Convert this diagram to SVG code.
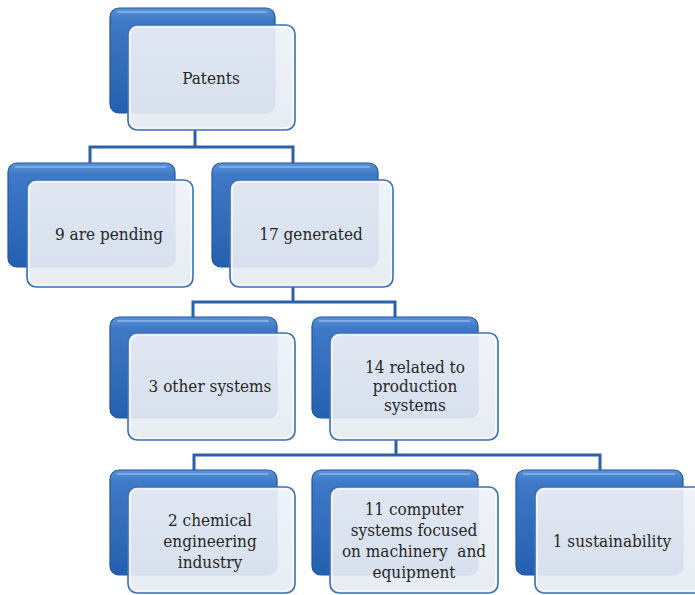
<svg xmlns="http://www.w3.org/2000/svg" width="695" height="595" viewBox="0 0 695 595">
<defs>
<linearGradient id="blueG" x1="0" y1="0" x2="0" y2="1">
<stop offset="0" stop-color="#5a93d8"/>
<stop offset="0.12" stop-color="#3e78c6"/>
<stop offset="1" stop-color="#2560b0"/>
</linearGradient>
<linearGradient id="frontG" x1="0" y1="0" x2="0" y2="1">
<stop offset="0" stop-color="#eef1f7"/>
<stop offset="1" stop-color="#e6eaf2"/>
</linearGradient>
</defs>
<style>
.back{fill:url(#blueG);stroke:#1f559f;stroke-width:1.2}
.hl{fill:none;stroke:#8ab4e8;stroke-width:2;stroke-linecap:round;opacity:0.8}
.front{fill:url(#frontG);fill-opacity:0.92;stroke:#3a70b8;stroke-width:1.6}
.inner{fill:none;stroke:#ffffff;stroke-width:1.2;opacity:0.9}
.t{font-family:'DejaVu Serif Condensed','DejaVu Serif',serif;font-stretch:condensed;font-size:17px;fill:#262626;text-anchor:middle}
.conn{fill:none;stroke:#2c61a9;stroke-width:3}
</style>
<rect width="695" height="595" fill="#ffffff"/>
<g id="connectors">
<path class="conn" d="M195,130 V147 M90,163 V147 H293 V163"/>
<path class="conn" d="M293,287 V302 M193,317 V302 H395 V317"/>
<path class="conn" d="M396,440 V455 M194,470 V455 H600 V470"/>
</g>
<g id="n-patents">
<rect class="back" x="110" y="8" width="165" height="105" rx="9"/>
<path class="hl" d="M118,12 H266"/>
<rect class="front" x="128" y="25" width="167" height="105" rx="9"/>
<rect class="inner" x="130" y="27" width="163" height="101" rx="8"/>
<text class="t" x="211" y="84">Patents</text>
</g>
<g id="n-pending">
<rect class="back" x="8" y="163" width="167" height="104" rx="9"/>
<path class="hl" d="M16,167 H166"/>
<rect class="front" x="27" y="180" width="166" height="107" rx="9"/>
<rect class="inner" x="29" y="182" width="162" height="103" rx="8"/>
<text class="t" x="109" y="240">9 are pending</text>
</g>
<g id="n-generated">
<rect class="back" x="212" y="163" width="166" height="104" rx="9"/>
<path class="hl" d="M220,167 H369"/>
<rect class="front" x="230" y="180" width="163" height="107" rx="9"/>
<rect class="inner" x="232" y="182" width="159" height="103" rx="8"/>
<text class="t" x="311" y="240">17 generated</text>
</g>
<g id="n-other">
<rect class="back" x="110" y="317" width="167" height="101" rx="9"/>
<path class="hl" d="M118,321 H268"/>
<rect class="front" x="128" y="333" width="167" height="107" rx="9"/>
<rect class="inner" x="130" y="335" width="163" height="103" rx="8"/>
<text class="t" x="210" y="392">3 other systems</text>
</g>
<g id="n-production">
<rect class="back" x="312" y="317" width="166" height="101" rx="9"/>
<path class="hl" d="M320,321 H469"/>
<rect class="front" x="330" y="333" width="168" height="107" rx="9"/>
<rect class="inner" x="332" y="335" width="164" height="103" rx="8"/>
<text class="t" x="415" y="373">14 related to</text>
<text class="t" x="415" y="392">production</text>
<text class="t" x="415" y="411">systems</text>
</g>
<g id="n-chemical">
<rect class="back" x="110" y="470" width="167" height="105" rx="9"/>
<path class="hl" d="M118,474 H268"/>
<rect class="front" x="128" y="487" width="167" height="106" rx="9"/>
<rect class="inner" x="130" y="489" width="163" height="102" rx="8"/>
<text class="t" x="210" y="526">2 chemical</text>
<text class="t" x="210" y="547">engineering</text>
<text class="t" x="210" y="568">industry</text>
</g>
<g id="n-computer">
<rect class="back" x="312" y="470" width="166" height="105" rx="9"/>
<path class="hl" d="M320,474 H469"/>
<rect class="front" x="330" y="487" width="168" height="106" rx="9"/>
<rect class="inner" x="332" y="489" width="164" height="102" rx="8"/>
<text class="t" x="414" y="515">11 computer</text>
<text class="t" x="414" y="536">systems focused</text>
<text class="t" x="414" y="557" xml:space="preserve">on machinery  and</text>
<text class="t" x="414" y="578">equipment</text>
</g>
<g id="n-sustainability">
<rect class="back" x="516" y="470" width="167" height="105" rx="9"/>
<path class="hl" d="M524,474 H674"/>
<rect class="front" x="535" y="487" width="168" height="106" rx="9"/>
<rect class="inner" x="537" y="489" width="164" height="102" rx="8"/>
<text class="t" x="612" y="547">1 sustainability</text>
</g>
</svg>
